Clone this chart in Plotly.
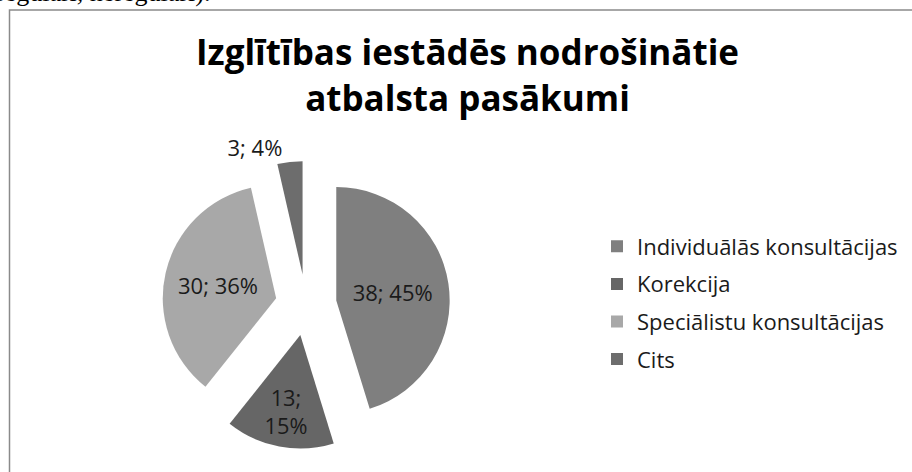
import plotly.graph_objects as go

categories = ["Individuālās konsultācijas", "Korekcija", "Speciālistu konsultācijas", "Cits"]
values = [38, 13, 30, 3]
percent_labels = ["45%", "15%", "36%", "4%"]
title_lines = ["Izglītības iestādēs nodrošinātie", "atbalsta pasākumi"]
doc_fragment = "regulāri, neregulāri)."

colors = ["#7f7f7f", "#666666", "#a8a8a8", "#6d6d6d"]
separators = ["; ", ";<br>", "; ", "; "]
texts = [f"{v}{s}{p}" for v, s, p in zip(values, separators, percent_labels)]

W, H = 912, 472
half = 144

fig = go.Figure()
fig.add_trace(go.Pie(
    labels=categories,
    values=values,
    text=texts,
    textinfo="text",
    textposition=["inside", "inside", "inside", "outside"],
    insidetextorientation="horizontal",
    sort=False,
    direction="clockwise",
    rotation=0,
    pull=[0.27, 0.27, 0.27, 0.27],
    marker=dict(colors=colors, line=dict(width=0)),
    textfont=dict(family="Open Sans", size=22, color="#1a1a1a"),
    outsidetextfont=dict(family="Open Sans", size=22, color="#1a1a1a"),
    domain=dict(x=[(306 - half) / W, (306 + half) / W],
                y=[(H - 305 - half) / H, (H - 305 + half) / H]),
    hoverinfo="label+value+percent",
    showlegend=False,
))

# legend entries (one group per category so the row spacing can match)
for cat, col in zip(categories, colors):
    fig.add_trace(go.Scatter(
        x=[None], y=[None], mode="markers", name=cat, legendgroup=cat,
        marker=dict(symbol="square", size=12, color=col),
        showlegend=True, hoverinfo="skip",
    ))

fig.update_layout(
    width=W,
    height=H,
    margin=dict(l=0, r=0, t=0, b=0, autoexpand=False),
    paper_bgcolor="white",
    plot_bgcolor="rgba(0,0,0,0)",
    xaxis=dict(visible=False, domain=[0.99, 1.0]),
    yaxis=dict(visible=False, domain=[0.99, 1.0]),
    legend=dict(
        x=597 / W,
        xanchor="left",
        y=(H - 303) / H,
        yanchor="middle",
        font=dict(family="Open Sans", size=22, color="#1a1a1a"),
        bgcolor="rgba(0,0,0,0)",
        traceorder="grouped",
        tracegroupgap=6,
        itemclick=False,
        itemdoubleclick=False,
    ),
    showlegend=True,
    shapes=[
        dict(type="rect", xref="paper", yref="paper",
             x0=9.5 / W, x1=1.02, y0=-0.02, y1=1 - 10 / H,
             line=dict(color="#8a8a8a", width=1.5), fillcolor="rgba(0,0,0,0)"),
    ],
    annotations=[
        dict(text="<br>".join(title_lines), xref="paper", yref="paper",
             x=467 / W, xanchor="center", y=1 - 26 / H, yanchor="top",
             showarrow=False, align="center",
             font=dict(family="Open Sans", size=35, color="#000000", weight="bold")),
        dict(text=doc_fragment, xref="paper", yref="paper", x=-6 / W, xanchor="left",
             y=1 - 9 / H, yanchor="bottom", showarrow=False,
             font=dict(family="Liberation Serif", size=26, color="#000000")),
    ],
)

fig.write_html(
    "out.html",
    config={"displayModeBar": False},
    post_script="document.body.style.margin='0';",
)
